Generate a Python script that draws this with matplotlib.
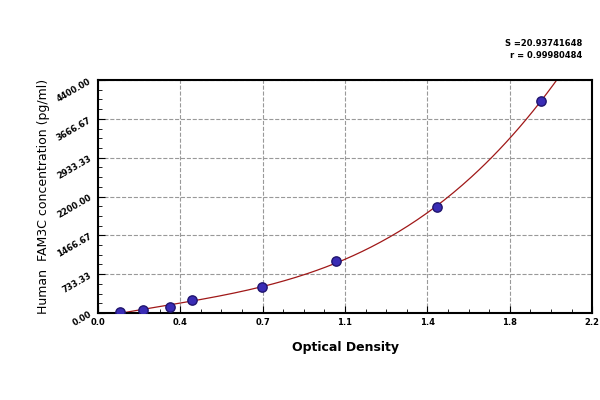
import matplotlib.pyplot as plt
import numpy as np

# Standard curve points (OD, concentration)
od = [0.10, 0.20, 0.32, 0.42, 0.73, 1.06, 1.51, 1.97]
conc = [20, 57, 113, 245, 490, 980, 2000, 4000]

yticks = [0, 733.33, 1466.67, 2200, 2933.33, 3666.67, 4400]
ytick_labels = ['0.00', '733.33', '1466.67', '2200.00', '2933.33', '3666.67', '4400.00']
xticks = [0, 2.2 / 6, 2 * 2.2 / 6, 1.1, 4 * 2.2 / 6, 5 * 2.2 / 6, 2.2]
xtick_labels = ['0.0', '0.4', '0.7', '1.1', '1.4', '1.8', '2.2']

fig = plt.figure(figsize=(6, 4), dpi=100)
ax = fig.add_axes([0.163, 0.2175, 0.824, 0.5825])

# fitted curve through the standards
coef = np.polyfit(od, conc, 3)
xs = np.linspace(0.08, 2.1, 200)
ys = np.polyval(coef, xs)
ax.plot(xs, ys, color='#a01818', lw=0.9, zorder=2)
ax.scatter(od, conc, s=45, color='#3a2cb5', edgecolors='#20156e', zorder=3)

ax.set_xlim(0, 2.2)
ax.set_ylim(0, 4400)
ax.set_xticks(xticks)
ax.set_xticklabels(xtick_labels, fontsize=6, fontweight='bold')
ax.set_yticks(yticks)
ax.set_yticklabels(ytick_labels, fontsize=6, fontweight='bold', rotation=30)
ax.minorticks_on()
ax.tick_params(which='both', direction='in', length=3)
ax.tick_params(which='major', length=5)
ax.grid(True, which='major', linestyle='--', color='#999999', lw=0.8)
for s in ax.spines.values():
    s.set_linewidth(1.5)

ax.set_xlabel('Optical Density', fontsize=9, fontweight='bold', labelpad=10)
ax.set_ylabel('Human  FAM3C concentration (pg/ml)', fontsize=9, labelpad=4)
fig.text(0.97, 0.885, 'S =20.93741648', ha='right', fontsize=6, fontweight='bold')
fig.text(0.97, 0.855, 'r = 0.99980484', ha='right', fontsize=6, fontweight='bold')

fig.savefig('out.png')
